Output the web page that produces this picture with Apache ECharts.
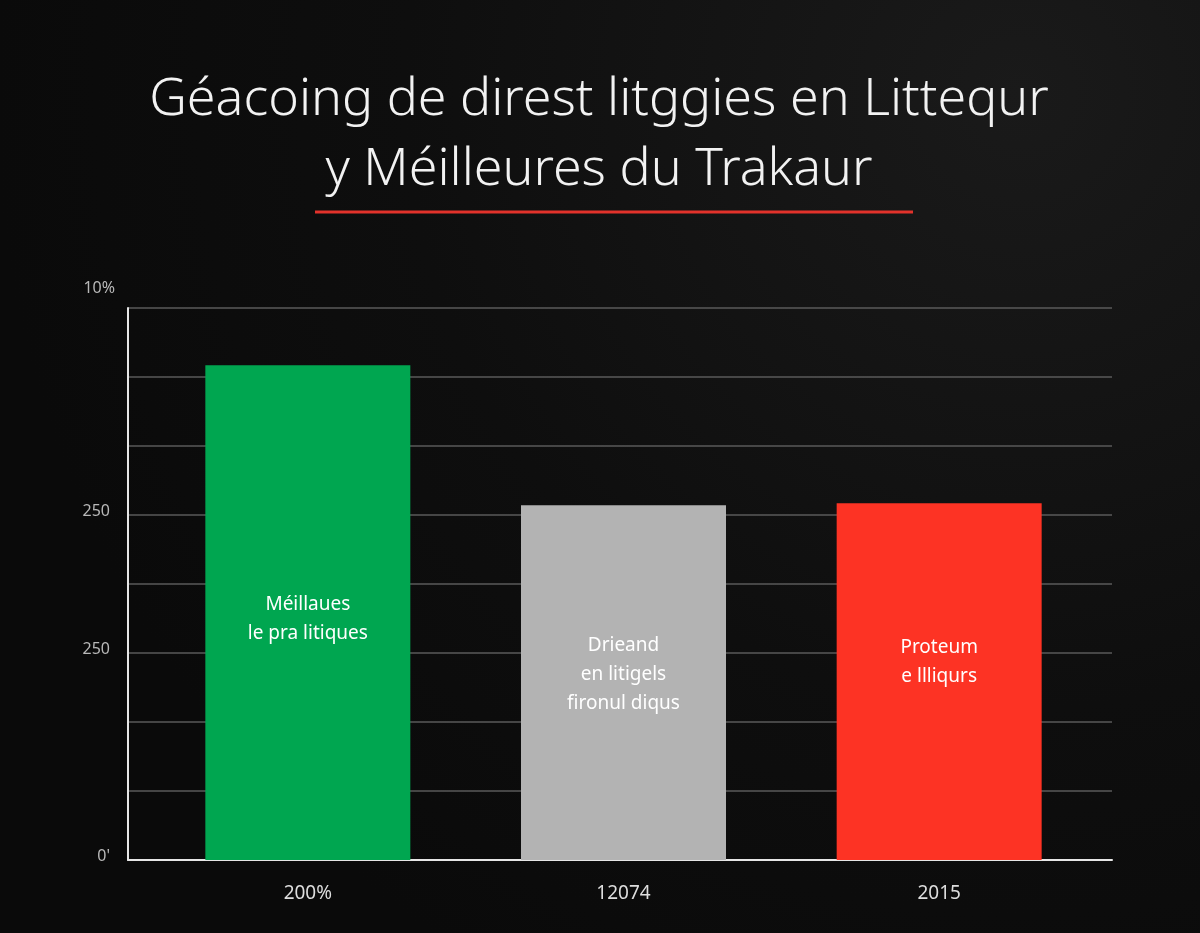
<!DOCTYPE html>
<html>
<head>
<meta charset="utf-8">
<script src="https://cdn.jsdelivr.net/npm/echarts@6/dist/echarts.min.js"></script>
<style>
  html, body { margin: 0; padding: 0; background: #0d0d0d; }
  #main { width: 1200px; height: 933px; }
</style>
</head>
<body>
<div id="main"></div>
<script>
// données
var categories = ['200%', '12074', '2015'];
var values = [7.17, 5.14, 5.17];
var barColors = ['#00a650', '#b3b3b3', '#fd3324'];
var barLabels = ['Méillaues\nle pra litiques', 'Drieand\nen litigels\nfironul diqus', 'Proteum\ne llliqurs'];
// libellés de l'axe y (les autres graduations restent vides)
var yTickLabels = { 0: "0'", 3: '250', 5: '250', 8: '10%' };

var chart = echarts.init(document.getElementById('main'));

var labelOffsets = [[0, 6], [0, -8], [0, -20]];
var labelFont = 'Noto Sans';

chart.setOption({
    backgroundColor: {
        type: 'radial', x: 0.85, y: 0.1, r: 1.1,
        colorStops: [
            { offset: 0, color: '#1a1a1a' },
            { offset: 0.6, color: '#0e0e0e' },
            { offset: 1, color: '#0a0a0a' }
        ]
    },
    title: {
        text: 'Géacoing de direst litggies en Littequr\ny Méilleures du Trakaur',
        left: 594,
        top: 60,
        textAlign: 'center',
        textStyle: {
            color: '#f2f2f2',
            fontFamily: labelFont,
            fontWeight: 300,
            fontSize: 52,
            lineHeight: 70
        }
    },
    graphic: [{
        type: 'line',
        shape: { x1: 315, y1: 212, x2: 913, y2: 212 },
        style: { stroke: '#e2322b', lineWidth: 3 }
    }],
    // grille 0 : cadre, lignes et libellés y ; grille 1 : barres
    grid: [
        { left: 128, right: 88, top: 308, bottom: 73 },
        { left: 150, right: 103, top: 308, bottom: 73 }
    ],
    xAxis: [{
        gridIndex: 0,
        type: 'category',
        data: categories,
        axisLine: { lineStyle: { color: '#e6e6e6', width: 2 } },
        axisTick: { show: false },
        axisLabel: { show: false }
    }, {
        gridIndex: 1,
        type: 'category',
        data: categories,
        axisLine: { show: false },
        axisTick: { show: false },
        axisLabel: {
            color: '#dddddd',
            fontSize: 19,
            fontFamily: labelFont,
            margin: 24
        }
    }],
    yAxis: [{
        gridIndex: 0,
        type: 'value',
        min: 0,
        max: 8,
        interval: 1,
        axisLine: { show: true, lineStyle: { color: '#e6e6e6', width: 2 } },
        axisTick: { show: false },
        splitLine: { lineStyle: { color: '#5a5a5a', width: 1.5 } },
        axisLabel: {
            color: '#b8b8b8',
            fontSize: 16,
            fontFamily: labelFont,
            margin: 18,
            formatter: function (v) {
                var t = yTickLabels[v];
                if (t === undefined) return '';
                if (v === 8) return '{top|' + t + '}';
                return '{n|' + t + '}';
            },
            rich: {
                top: { color: '#b8b8b8', fontSize: 16, fontFamily: labelFont, padding: [0, -5, 40, 0] },
                n: { color: '#b8b8b8', fontSize: 16, fontFamily: labelFont, padding: [0, 0, 8, 0] }
            }
        }
    }, {
        gridIndex: 1,
        type: 'value',
        min: 0,
        max: 8,
        interval: 1,
        show: false
    }],
    series: [{
        type: 'bar',
        xAxisIndex: 1,
        yAxisIndex: 1,
        barWidth: 205,
        data: values.map(function (v, i) {
            return {
                value: v,
                itemStyle: { color: barColors[i] },
                label: {
                    show: true,
                    position: 'inside',
                    offset: labelOffsets[i],
                    formatter: barLabels[i],
                    color: '#ffffff',
                    fontSize: 19,
                    lineHeight: 29,
                    fontFamily: labelFont
                }
            };
        })
    }]
});
</script>
</body>
</html>
